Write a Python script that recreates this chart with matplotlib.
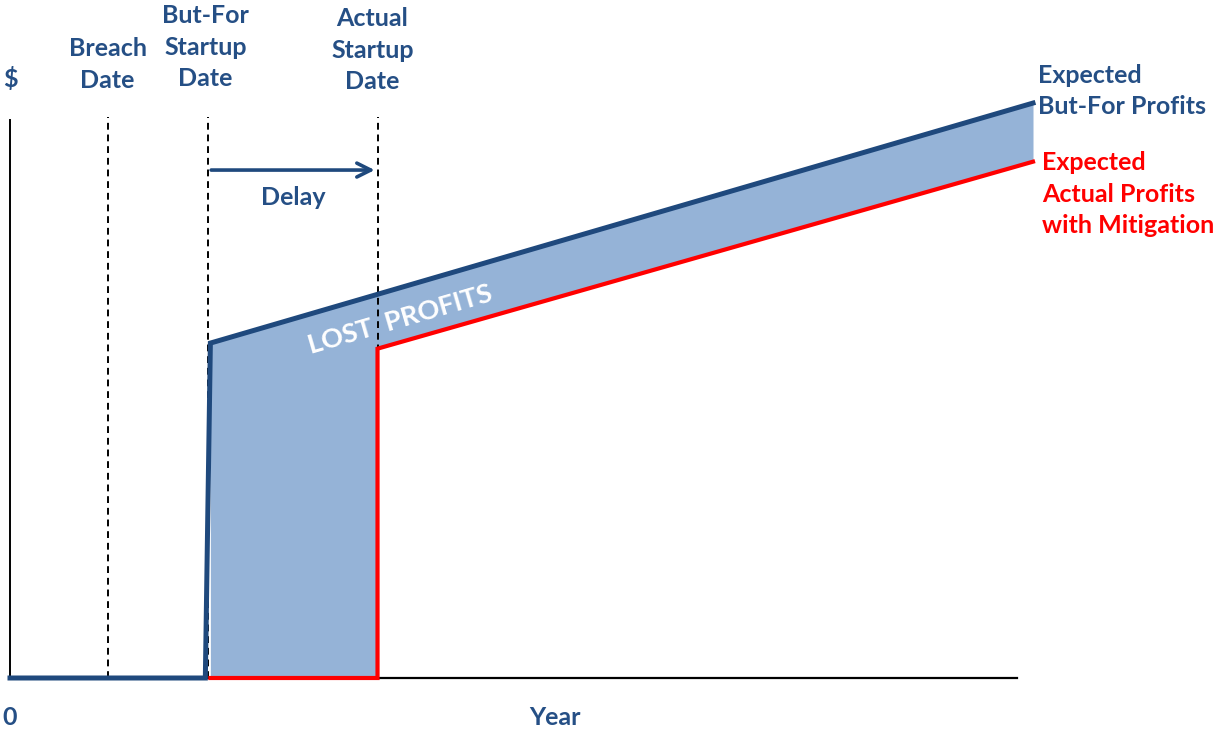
import numpy as np
import matplotlib
matplotlib.use('Agg')
import matplotlib.pyplot as plt

plt.rcParams['font.family'] = ['Lato', 'DejaVu Sans']
plt.rcParams['font.weight'] = 'bold'

# timeline (years) and profit levels ($, arbitrary units)
breach_date = 0.97
butfor_start = 1.97
actual_start = 3.65
end_year = 10.16

butfor_x = [0.0, 1.94, 1.99, 10.16]
butfor_y = [0.0, 0.0, 6.0, 10.3]

actual_x = [1.99, 3.65, 3.65, 10.16]
actual_y = [0.0, 0.0, 5.9, 9.25]

navy = '#1F497D'
text_blue = '#254F85'
fill_blue = '#95B3D7'
red = '#FF0000'

fig = plt.figure(figsize=(12.17, 7.30), dpi=100)
ax = fig.add_axes([10 / 1217, 52 / 730, 1023 / 1217, 614 / 730])
ax.set_xlim(0, end_year)
ax.set_ylim(0, 11)

# shaded lost profits area between the two profit paths
upper = np.interp(actual_x, butfor_x[2:], butfor_y[2:])
ax.fill_between(actual_x, actual_y, upper, color=fill_blue, lw=0, zorder=1)

ax.plot(actual_x, actual_y, color=red, lw=3.0, solid_joinstyle='miter', zorder=3, clip_on=False)
ax.plot(butfor_x, butfor_y, color=navy, lw=3.6, solid_joinstyle='miter', zorder=4, clip_on=False)

for d in [breach_date, butfor_start, actual_start]:
    ax.plot([d, d], [0, 10.05], color='black', lw=1.4, ls=(0, (3.5, 2.5)), zorder=2)

# delay arrow
ax.annotate('', xy=(actual_start, 9.1), xytext=(butfor_start, 9.1),
            arrowprops=dict(arrowstyle='->', color=navy, lw=2.6, mutation_scale=25))
ax.text((butfor_start + actual_start) / 2, 8.6, 'Delay', color=text_blue, fontsize=18,
        ha='center', va='center')

ax.spines[['top', 'right']].set_visible(False)
ax.spines['left'].set_bounds(0, 10)
ax.spines['bottom'].set_bounds(0, 10.0)
ax.spines['left'].set_linewidth(1.4)
ax.spines['bottom'].set_linewidth(1.6)
ax.set_xticks([])
ax.set_yticks([])
ax.patch.set_alpha(0)

fs = 18
ls = 1.45
ax.text(0, 10.73, '$', color=text_blue, fontsize=fs, ha='center', va='center')
ax.text(breach_date, 10.99, 'Breach\nDate', color=text_blue, fontsize=fs, ha='center',
        va='center', linespacing=ls)
ax.text(butfor_start - 0.03, 11.3, 'But-For\nStartup\nDate', color=text_blue, fontsize=fs,
        ha='center', va='center', linespacing=ls, clip_on=False)
ax.text(actual_start - 0.05, 11.25, 'Actual\nStartup\nDate', color=text_blue, fontsize=fs,
        ha='center', va='center', linespacing=ls, clip_on=False)
ax.text(10.21, 10.52, 'Expected\nBut-For Profits', color=text_blue, fontsize=fs,
        ha='left', va='center', linespacing=ls, clip_on=False)
ax.text(10.25, 8.67, 'Expected\nActual Profits\nwith Mitigation', color=red, fontsize=fs,
        ha='left', va='center', linespacing=ls, clip_on=False)
ax.text(3.88, 6.42, 'LOST  PROFITS', color='white', fontsize=19.5, ha='center', va='center',
        rotation=16.3, rotation_mode='anchor')
ax.text(0, -0.7, '0', color=text_blue, fontsize=fs, ha='center', va='center', clip_on=False)
ax.text(5.41, -0.7, 'Year', color=text_blue, fontsize=fs, ha='center', va='center', clip_on=False)

fig.savefig('out.png', dpi=100)
